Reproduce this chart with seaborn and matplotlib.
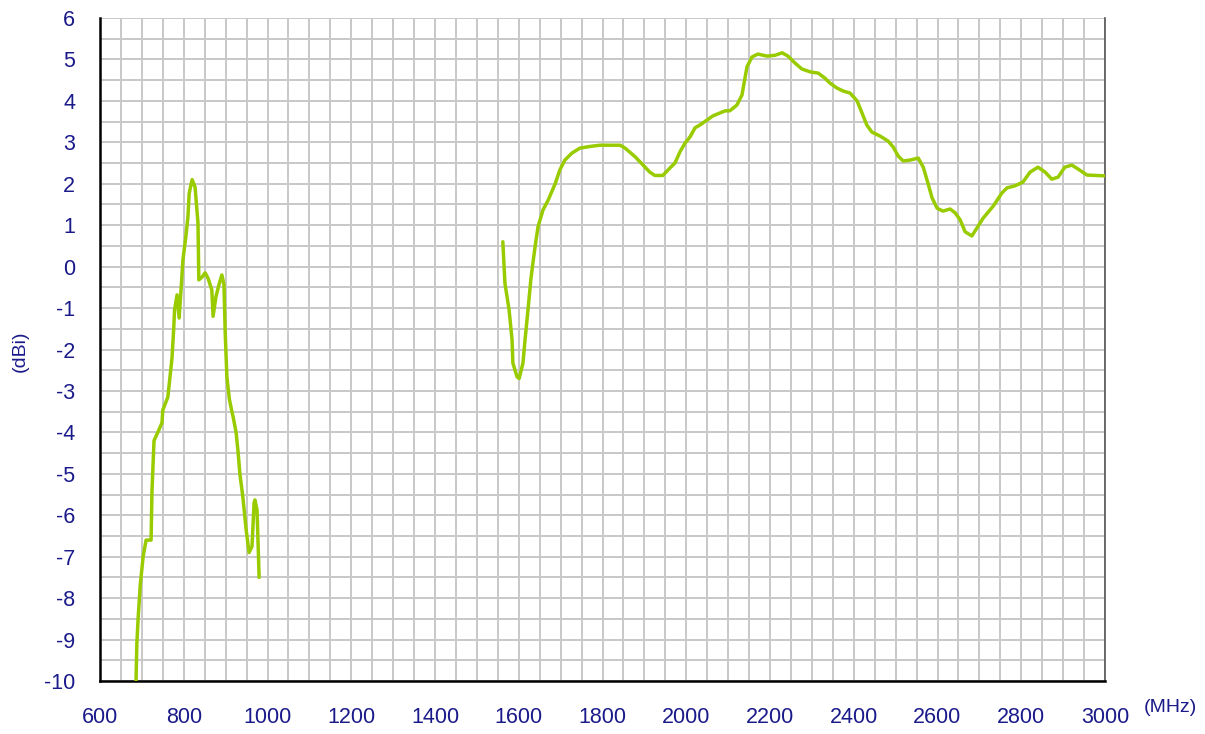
import pandas as pd
import numpy as np
import seaborn as sns
import matplotlib.pyplot as plt
from matplotlib.ticker import MultipleLocator

# low band segment (MHz, dBi)
low_freq = [686, 688, 691, 696, 703, 710, 722, 724, 724, 729, 738, 748, 750, 762, 772,
            776, 778, 784, 789, 793, 798, 805, 810, 813, 820, 827, 834, 836, 844, 851,
            858, 867, 870, 877, 884, 891, 896, 899, 903, 909, 915, 918, 925, 930, 934,
            941, 949, 956, 963, 968, 970, 975, 980]
low_gain = [-10.0, -9.1, -8.5, -7.7, -7.0, -6.6, -6.6, -6.1, -4.8, -4.2, -4.0, -3.77, -3.46,
            -3.15, -2.2, -1.5, -1.05, -0.68, -1.24, -0.64, 0.16, 0.72, 1.2, 1.77, 2.1,
            1.92, 1.05, -0.32, -0.25, -0.15, -0.28, -0.56, -1.2, -0.72, -0.44, -0.2,
            -0.43, -1.6, -2.66, -3.2, -3.5, -3.63, -4.0, -4.5, -5.0, -5.55, -6.35, -6.9,
            -6.75, -5.7, -5.63, -5.87, -7.5]

# high band segment (MHz, dBi)
high_freq = [1562, 1567, 1577, 1584, 1586, 1596, 1601, 1610, 1615, 1622, 1629, 1634, 1639,
             1646, 1658, 1670, 1687, 1698, 1710, 1727, 1746, 1770, 1794, 1842, 1854, 1878,
             1897, 1913, 1925, 1944, 1961, 1973, 1985, 1997, 2009, 2021, 2033, 2064, 2093,
             2104, 2121, 2133, 2145, 2157, 2171, 2193, 2212, 2229, 2243, 2260, 2276, 2296,
             2315, 2331, 2343, 2360, 2374, 2391, 2408, 2420, 2431, 2443, 2463, 2482, 2494,
             2506, 2518, 2534, 2554, 2566, 2577, 2587, 2599, 2613, 2630, 2642, 2654, 2666,
             2682, 2694, 2709, 2733, 2754, 2766, 2785, 2804, 2821, 2840, 2857, 2873, 2888,
             2904, 2921, 2935, 2957, 3000]
high_gain = [0.6, -0.4, -1.05, -1.77, -2.33, -2.66, -2.7, -2.33, -1.77, -1.05, -0.3, 0.1,
             0.48, 0.96, 1.37, 1.6, 2.0, 2.33, 2.57, 2.74, 2.86, 2.9, 2.93, 2.93, 2.86,
             2.65, 2.45, 2.28, 2.2, 2.2, 2.38, 2.5, 2.77, 2.98, 3.13, 3.35, 3.42, 3.64,
             3.76, 3.76, 3.9, 4.14, 4.82, 5.06, 5.13, 5.08, 5.1, 5.16, 5.08, 4.91, 4.77,
             4.7, 4.67, 4.55, 4.43, 4.31, 4.24, 4.19, 4.0, 3.7, 3.42, 3.25, 3.15, 3.03,
             2.89, 2.67, 2.55, 2.57, 2.62, 2.4, 2.02, 1.66, 1.41, 1.34, 1.39, 1.3, 1.13,
             0.84, 0.74, 0.93, 1.17, 1.46, 1.78, 1.9, 1.95, 2.04, 2.28, 2.4, 2.28, 2.11,
             2.16, 2.4, 2.45, 2.36, 2.21, 2.19]

sns.set_style("white")
plt.rcParams['font.family'] = ['Liberation Sans', 'DejaVu Sans']
plt.rcParams['axes.unicode_minus'] = False

navy = '#1a1a8a'
green = '#99cc00'

fig = plt.figure(figsize=(12.05, 7.34), dpi=100)
ax = fig.add_axes([100 / 1205, 53 / 734, 1005 / 1205, 663 / 734])

low = pd.DataFrame({'freq': low_freq, 'gain': low_gain})
high = pd.DataFrame({'freq': high_freq, 'gain': high_gain})
sns.lineplot(data=low, x='freq', y='gain', sort=False, color=green, lw=2.5, ax=ax, zorder=3)
sns.lineplot(data=high, x='freq', y='gain', sort=False, color=green, lw=2.5, ax=ax, zorder=3)

ax.set_xlim(600, 3000)
ax.set_ylim(-10, 6)
ax.xaxis.set_major_locator(MultipleLocator(200))
ax.xaxis.set_minor_locator(MultipleLocator(50))
ax.yaxis.set_major_locator(MultipleLocator(1))
ax.yaxis.set_minor_locator(MultipleLocator(0.5))
ax.grid(which='both', color='#c8c8c8', lw=1.4)
ax.set_axisbelow(True)

ax.tick_params(which='major', direction='in', length=7, width=1.5, color='black',
               labelsize=15.5, labelcolor=navy)
ax.tick_params(which='minor', length=0)
ax.tick_params(axis='x', pad=19)
ax.tick_params(axis='y', pad=18)

ax.spines['left'].set_color('black')
ax.spines['left'].set_linewidth(1.8)
ax.spines['bottom'].set_color('black')
ax.spines['bottom'].set_linewidth(1.8)
ax.spines['right'].set_color('#555555')
ax.spines['right'].set_linewidth(1.2)
ax.spines['top'].set_visible(False)

ax.set_xlabel('')
ax.set_ylabel('')
fig.text(20 / 1205, 1 - 351 / 734, '(dBi)', rotation=90, color=navy, fontsize=14,
         ha='center', va='center')
fig.text(1170 / 1205, 1 - 708 / 734, '(MHz)', color=navy, fontsize=14,
         ha='center', va='center')

fig.savefig('out.png', dpi=100)
